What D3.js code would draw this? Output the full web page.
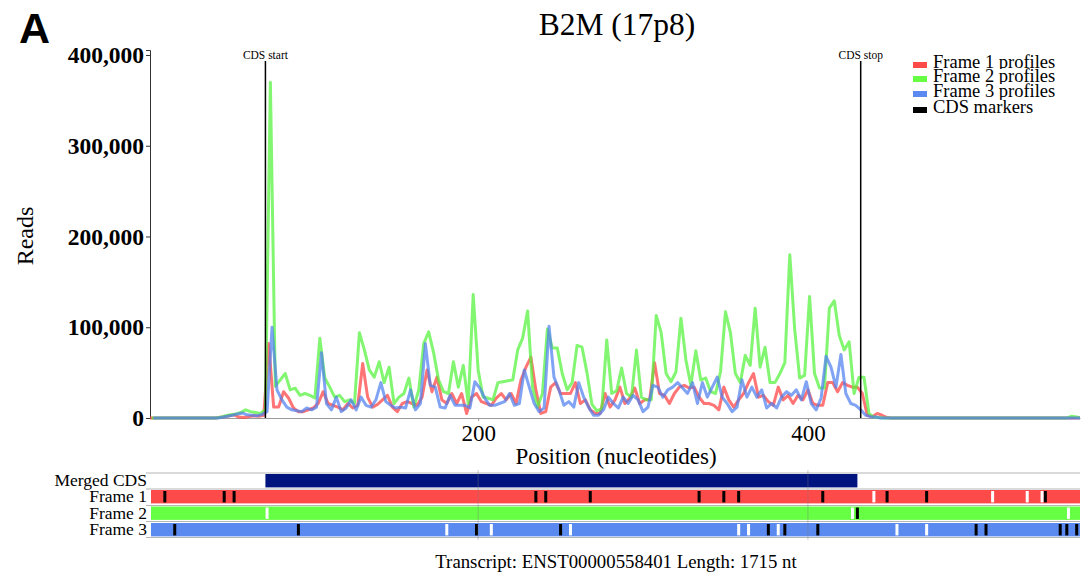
<!DOCTYPE html>
<html>
<head>
<meta charset="utf-8">
<script src="https://cdn.jsdelivr.net/npm/d3@7"></script>
<style>
  body { margin: 0; background: #fff; }
  svg { display: block; font-family: "Liberation Serif", "Times New Roman", serif; }
</style>
</head>
<body>
<svg id="chart" width="1081" height="573"></svg>
<script>
// Ribosome profile reads per codon, one value per codon for each reading frame.
// Frame 1 codon k sits at nt 1 + 3k, frame 2 at nt 2 + 3k, frame 3 at nt 3 + 3k.
const frame1Reads = [
  0,0,0,0,0,0,0,0,0,0,0,0,0,0,
  500,1500,2500,3500,1000,500,1500,2500,2000,3000,
  82000,12000,12000,29000,22000,11000,7000,7000,9000,11000,
  16000,29000,16000,14000,12000,9000,16000,11000,14000,60000,
  23000,12000,15000,20000,25000,12000,7000,16000,18000,16000,
  14000,23000,53000,29000,45000,20000,16000,27000,16000,27000,
  5000,23000,27000,18000,16000,14000,22000,27000,20000,27000,
  16000,42000,56000,67000,31000,5000,7000,34000,39000,27000,
  27000,27000,39000,16000,20000,9000,5000,5000,27000,12000,
  20000,34000,16000,22000,33000,16000,20000,20000,61000,27000,
  25000,16000,27000,34000,36000,33000,34000,23000,16000,16000,
  14000,9000,34000,20000,12000,20000,27000,39000,49000,23000,
  25000,18000,14000,34000,20000,25000,16000,25000,20000,31000,
  16000,14000,14000,39000,39000,29000,39000,36000,34000,34000,
  27000,3000,1500,5000,3000,500,
  0,0,0,0,0,0,0,0,0,0,0,0,0,0,0,0,0,0,0,0,
  0,0,0,0,0,0,0,0,0,0,0,0,0,0,0,0,0,0,0
];
const frame2Reads = [
  0,0,0,0,0,0,0,0,0,0,0,0,0,0,
  1000,2500,3500,4500,6000,9000,7000,6000,5000,9000,
  370000,35000,42000,49000,31000,33000,25000,27000,25000,22000,
  88000,44000,34000,23000,25000,18000,20000,16000,94000,75000,
  53000,45000,62000,39000,56000,16000,23000,27000,44000,12000,
  31000,82000,95000,72000,42000,29000,27000,62000,34000,58000,
  16000,136000,53000,23000,22000,20000,39000,40000,41000,42000,
  75000,88000,118000,34000,12000,27000,98000,77000,77000,49000,
  31000,39000,80000,78000,50000,15000,8000,10000,86000,27000,
  30000,55000,27000,23000,75000,23000,20000,20000,113000,94000,
  49000,40000,51000,110000,64000,36000,74000,42000,44000,29000,
  27000,51000,117000,94000,49000,39000,69000,58000,121000,56000,
  78000,39000,39000,49000,61000,180000,97000,44000,47000,134000,
  49000,33000,33000,121000,129000,91000,75000,84000,27000,45000,
  45000,5000,1000,500,0,0,
  0,0,0,0,0,0,0,0,0,0,0,0,0,0,0,0,0,0,0,0,
  0,0,0,0,0,0,0,0,0,0,0,0,0,0,0,0,2000,1000,0
];
const frame3Reads = [
  0,0,0,0,0,0,0,0,0,0,0,0,0,0,
  800,2000,3000,4500,5500,3500,3000,2500,4000,7000,
  100000,31000,20000,12000,9000,8000,7000,11000,9000,12000,
  72000,16000,9000,23000,7000,11000,20000,9000,23000,14000,
  12000,20000,39000,18000,14000,11000,12000,11000,31000,9000,
  16000,82000,36000,34000,12000,11000,25000,14000,14000,14000,
  11000,40000,33000,22000,14000,14000,16000,18000,27000,14000,
  16000,53000,34000,16000,7000,11000,101000,45000,31000,14000,
  18000,12000,39000,23000,12000,3000,3000,9000,23000,16000,
  11000,23000,16000,25000,20000,7000,12000,36000,34000,23000,
  31000,34000,39000,33000,27000,39000,16000,39000,23000,34000,
  45000,23000,16000,7000,12000,42000,23000,34000,23000,31000,
  11000,16000,11000,23000,29000,25000,31000,20000,40000,16000,
  9000,22000,68000,56000,34000,70000,27000,16000,14000,9000,
  3000,1500,1000,0,0,0,
  0,0,0,0,0,0,0,0,0,0,0,0,0,0,0,0,0,0,0,0,
  0,0,0,0,0,0,0,0,0,0,0,0,0,0,0,0,0,0,0
];

// Transcript window and CDS annotation (nucleotides)
const ntRange = [1, 565];
const cdsStart = 71;
const cdsStop = 432;
const mergedCds = [71, 430];

// Start (black) and stop (white) codon markers per frame track (nucleotides)
const frame1StartCodons = [10, 46, 52, 235, 241, 268, 334, 349, 358, 409, 448, 472, 544];
const frame1StopCodons = [440, 512, 533, 542];
const frame2StartCodons = [430];
const frame2StopCodons = [72, 427, 558];
const frame3StartCodons = [16, 91, 199, 250, 376, 386, 406, 502, 508, 553, 557, 563];
const frame3StopCodons = [181, 208, 256, 358, 364, 382, 454, 472];

const yTickValues = [0, 100000, 200000, 300000, 400000];
const xTickValues = [200, 400];

const legendNames = ["Frame 1 profiles", "Frame 2 profiles", "Frame 3 profiles", "CDS markers"];
const trackNames = ["Merged CDS", "Frame 1", "Frame 2", "Frame 3"];

const lineColors = ["#ff3f3f", "#52f23a", "#4f80ee"];
const barColors = ["#ff4a4a", "#66ff44", "#5a8aef"];
const cdsColor = "#00137f";
const serif = '"Liberation Serif", "Times New Roman", serif';

const svg = d3.select("#chart");

const x = d3.scaleLinear().domain(ntRange).range([150, 1080]);
const y = d3.scaleLinear().domain([0, 405500]).range([418, 50]);

// Panel letter and title
svg.append("text")
  .attr("x", 19).attr("y", 43)
  .attr("font-family", '"Liberation Sans", Arial, sans-serif')
  .attr("font-weight", "bold").attr("font-size", 43)
  .text("A");

svg.append("text")
  .attr("x", 617).attr("y", 35)
  .attr("text-anchor", "middle")
  .attr("font-family", serif).attr("font-size", 31.5)
  .text("B2M (17p8)");

// Axes
const gx = svg.append("g")
  .attr("transform", "translate(0,418)")
  .call(d3.axisBottom(x).tickValues(xTickValues).tickSize(3).tickSizeOuter(0).tickFormat(d3.format("d")));
gx.select(".domain").attr("stroke", "#9a9a9a");
gx.selectAll(".tick line").attr("stroke", "#9a9a9a");
gx.selectAll(".tick text")
  .attr("font-family", serif).attr("font-size", 23).attr("fill", "#000").attr("y", 7);

const gy = svg.append("g")
  .attr("transform", "translate(150,0)")
  .call(d3.axisLeft(y).tickValues(yTickValues).tickSize(4).tickSizeOuter(4).tickFormat(d3.format(",")));
gy.select(".domain").attr("stroke", "#333");
gy.selectAll(".tick line").attr("stroke", "#333");
gy.selectAll(".tick text")
  .attr("font-family", serif).attr("font-size", 23.5).attr("font-weight", "bold")
  .attr("fill", "#000").attr("x", -6);

svg.append("text")
  .attr("x", 616).attr("y", 464)
  .attr("text-anchor", "middle")
  .attr("font-family", serif).attr("font-size", 23)
  .text("Position (nucleotides)");

svg.append("text")
  .attr("transform", "translate(33,236) rotate(-90)")
  .attr("text-anchor", "middle")
  .attr("font-family", serif).attr("font-size", 24)
  .text("Reads");

// Profile lines
svg.append("clipPath").attr("id", "plot-clip")
  .append("rect").attr("x", 150).attr("y", 0).attr("width", 930).attr("height", 421);

const line = d3.line().x(d => x(d.nt)).y(d => y(d.v)).curve(d3.curveLinear);
const profiles = [frame1Reads, frame2Reads, frame3Reads].map((vals, f) =>
  vals.map((v, k) => ({ nt: ntRange[0] + 3 * k + f, v })));

svg.append("g").attr("clip-path", "url(#plot-clip)")
  .selectAll("path").data(profiles).join("path")
  .attr("d", line)
  .attr("fill", "none")
  .attr("stroke", (d, i) => lineColors[i])
  .attr("stroke-opacity", 0.72)
  .attr("stroke-width", 3)
  .attr("stroke-linejoin", "round");

// CDS boundary markers
[[cdsStart, "CDS start"], [cdsStop, "CDS stop"]].forEach(([nt, label]) => {
  svg.append("line")
    .attr("x1", x(nt)).attr("x2", x(nt))
    .attr("y1", y(0)).attr("y2", 61)
    .attr("stroke", "#000").attr("stroke-width", 1.5);
  svg.append("text")
    .attr("x", x(nt)).attr("y", 59)
    .attr("text-anchor", "middle")
    .attr("font-family", serif).attr("font-size", 11.5)
    .text(label);
});

// Legend
const legendColors = [barColors[0], barColors[1], barColors[2], "#000"];
const legend = svg.append("g");
legendNames.forEach((name, i) => {
  const base = [68, 82, 97, 113][i];
  const row = legend.append("g");
  row.append("rect")
    .attr("x", 905).attr("y", base - 13).attr("width", 170).attr("height", 15)
    .attr("fill", "#fff");
  row.append("rect")
    .attr("x", 913).attr("y", base - 6).attr("width", 14).attr("height", 6)
    .attr("fill", legendColors[i]);
  row.append("text")
    .attr("x", 933).attr("y", base)
    .attr("font-family", serif).attr("font-size", 18.5)
    .text(name);
});

// Annotation tracks
const trackTop = [474, 490, 506.5, 523];
const trackH = 13.4;
const sepY = [473, 489, 505.5, 521.5, 537.5];

svg.append("g").selectAll("line").data(sepY).join("line")
  .attr("x1", 146).attr("x2", 1080)
  .attr("y1", d => d).attr("y2", d => d)
  .attr("stroke", "#b5b5b5").attr("stroke-width", 1);

svg.append("rect")
  .attr("x", x(mergedCds[0])).attr("y", trackTop[0])
  .attr("width", x(mergedCds[1]) - x(mergedCds[0])).attr("height", trackH)
  .attr("fill", cdsColor);

[1, 2, 3].forEach(f => {
  svg.append("rect")
    .attr("x", 151).attr("y", trackTop[f])
    .attr("width", 929).attr("height", trackH)
    .attr("fill", barColors[f - 1]);
});

const startSets = [frame1StartCodons, frame2StartCodons, frame3StartCodons];
const stopSets = [frame1StopCodons, frame2StopCodons, frame3StopCodons];
[0, 1, 2].forEach(f => {
  const g = svg.append("g");
  g.selectAll("rect.stop").data(stopSets[f]).join("rect")
    .attr("class", "stop")
    .attr("x", d => x(d) - 1.5).attr("y", trackTop[f + 1] + 1)
    .attr("width", 3).attr("height", trackH - 2)
    .attr("fill", "#fff");
  g.selectAll("rect.start").data(startSets[f]).join("rect")
    .attr("class", "start")
    .attr("x", d => x(d) - 1.5).attr("y", trackTop[f + 1] + 1)
    .attr("width", 3).attr("height", trackH - 2)
    .attr("fill", "#000");
});

svg.append("g").selectAll("line").data(xTickValues).join("line")
  .attr("x1", d => x(d)).attr("x2", d => x(d))
  .attr("y1", 470).attr("y2", 540)
  .attr("stroke", "#777").attr("stroke-opacity", 0.4).attr("stroke-width", 1);

svg.append("g").selectAll("text").data(trackNames).join("text")
  .attr("x", 147)
  .attr("y", (d, i) => trackTop[i] + trackH / 2 + 5.5)
  .attr("text-anchor", "end")
  .attr("font-family", serif).attr("font-size", 17.5)
  .text(d => d);

svg.append("text")
  .attr("x", 616).attr("y", 568)
  .attr("text-anchor", "middle")
  .attr("font-family", serif).attr("font-size", 18.8)
  .text("Transcript: ENST00000558401 Length: 1715 nt");
</script>
</body>
</html>
